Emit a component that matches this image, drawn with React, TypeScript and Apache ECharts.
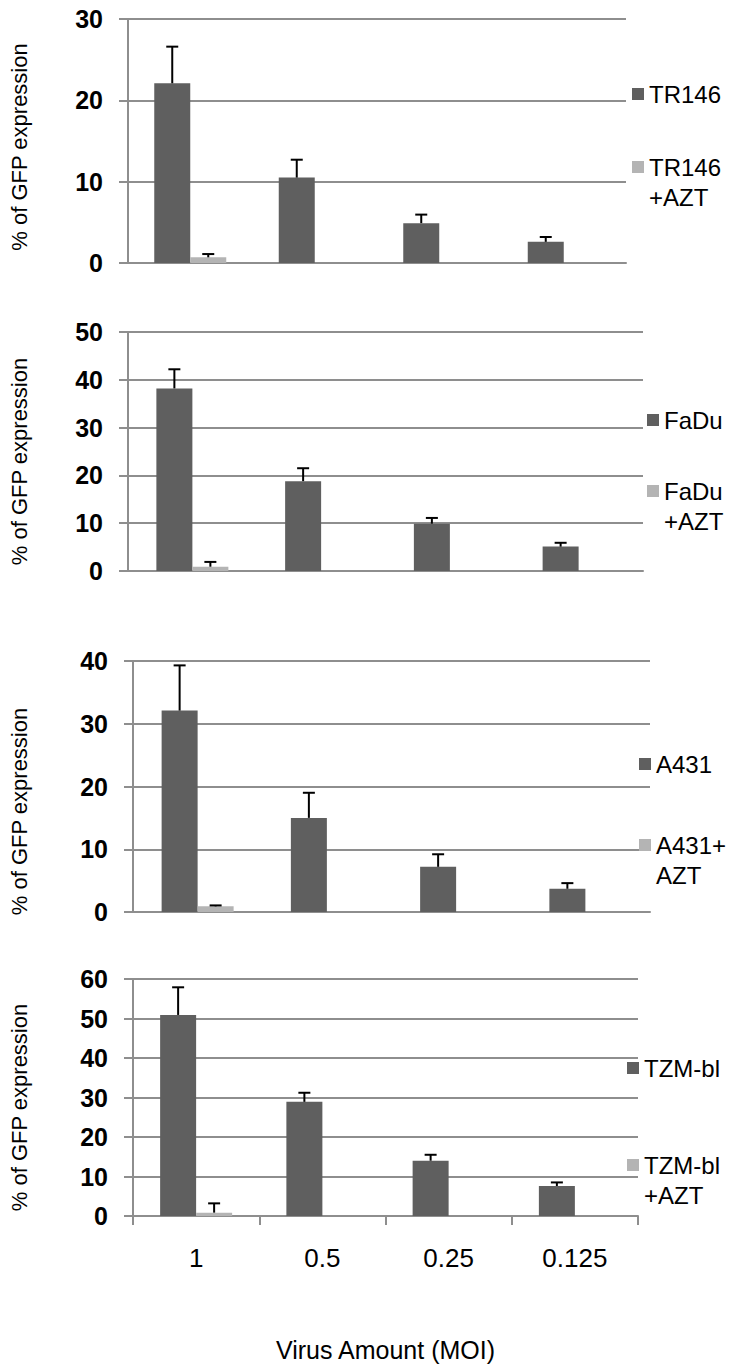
import React, { useEffect, useRef } from "react";
import * as echarts from "echarts";

// ---- data ----
const categories = ["1", "0.5", "0.25", "0.125"];

const tr146 = [22.1, 10.5, 4.9, 2.6];
const tr146Sd = [4.5, 2.2, 1.05, 0.6];
const tr146Azt = [0.7, 0, 0, 0];
const tr146AztSd = [0.4, 0, 0, 0];

const fadu = [38.2, 18.8, 9.9, 5.1];
const faduSd = [4.0, 2.7, 1.2, 0.8];
const faduAzt = [0.9, 0, 0, 0];
const faduAztSd = [1.0, 0, 0, 0];

const a431 = [32.1, 15.0, 7.2, 3.7];
const a431Sd = [7.2, 4.0, 2.0, 0.9];
const a431Azt = [0.9, 0, 0, 0];
const a431AztSd = [0.15, 0, 0, 0];

const tzm = [50.9, 28.9, 14.0, 7.6];
const tzmSd = [7.0, 2.3, 1.5, 0.9];
const tzmAzt = [0.85, 0, 0, 0];
const tzmAztSd = [2.35, 0, 0, 0];

const yMax = [30, 50, 40, 60];
const darkNames = ["TR146", "FaDu", "A431", "TZM-bl"];
const lightNames = ["TR146 +AZT", "FaDu +AZT", "A431+ AZT", "TZM-bl +AZT"];
const lightLines = [["TR146", "+AZT"], ["FaDu", "+AZT"], ["A431+", "AZT"], ["TZM-bl", "+AZT"]];
const yTitle = "% of GFP expression";
const xTitle = "Virus Amount (MOI)";

const darkVals = [tr146, fadu, a431, tzm];
const darkErrs = [tr146Sd, faduSd, a431Sd, tzmSd];
const lightVals = [tr146Azt, faduAzt, a431Azt, tzmAzt];
const lightErrs = [tr146AztSd, faduAztSd, a431AztSd, tzmAztSd];

// ---- layout / style ----
const grids = [
  { left: 128, top: 19, width: 498, height: 244 },
  { left: 128, top: 332, width: 515, height: 239 },
  { left: 133, top: 661, width: 517, height: 251 },
  { left: 133, top: 979, width: 505, height: 237 },
];
const nameGaps = [98, 98, 103, 103];
const titleShift = [12, 20, 50, 20];
const legendDark = [
  { x: 632, y: 97 },
  { x: 647, y: 423 },
  { x: 639, y: 767 },
  { x: 627, y: 1071 },
];
const legendLight = [
  { x: 632, y: 170 },
  { x: 647, y: 494 },
  { x: 639, y: 848 },
  { x: 627, y: 1168 },
];

const FONT = "'Liberation Sans', Arial, sans-serif";
const DARK = "#5f5f5f";
const LIGHT = "#b4b4b4";
const GRIDC = "#8e8e8e";
const BAR_W = 36;
const CAP = 12;
const LH = 30;

function errRenderer(sign: number) {
  return (params: any, api: any) => {
    const c = api.value(0);
    const v = api.value(1);
    const e = api.value(2);
    const p0 = api.coord([c, v]);
    const p1 = api.coord([c, v + e]);
    const x = p0[0] + (sign * BAR_W) / 2;
    return {
      type: "group",
      children: [
        { type: "line", shape: { x1: x, y1: p0[1], x2: x, y2: p1[1] }, style: { stroke: "#000", lineWidth: 2 } },
        { type: "line", shape: { x1: x - CAP / 2, y1: p1[1], x2: x + CAP / 2, y2: p1[1] }, style: { stroke: "#000", lineWidth: 2 } },
      ],
    };
  };
}

function buildOption() {
  const grid: any[] = [];
  const xAxis: any[] = [];
  const yAxis: any[] = [];
  const legend: any[] = [];
  const series: any[] = [];

  for (let i = 0; i < 4; i++) {
    const last = i === 3;
    grid.push({ ...grids[i], containLabel: false });
    xAxis.push({
      type: "category",
      gridIndex: i,
      data: categories,
      axisLine: { show: true, lineStyle: { color: GRIDC, width: 2 } },
      axisTick: { show: last, length: 9, lineStyle: { color: GRIDC, width: 2 } },
      axisLabel: { show: last, fontSize: 26, color: "#000", fontFamily: FONT, margin: 29 },
      name: last ? xTitle : "",
      nameLocation: "middle",
      nameGap: 121,
      nameTextStyle: { fontSize: 25, color: "#000", fontFamily: FONT, verticalAlign: "top" },
    });
    yAxis.push({
      type: "value",
      gridIndex: i,
      min: 0,
      max: yMax[i],
      interval: 10,
      axisLine: { show: true, lineStyle: { color: GRIDC, width: 2 } },
      axisTick: { show: true, length: 9, lineStyle: { color: GRIDC, width: 2 } },
      splitLine: { show: true, lineStyle: { color: GRIDC, width: 2 } },
      axisLabel: { fontSize: 25, fontWeight: "bold", color: "#000", fontFamily: FONT, margin: 25 },
      name: yTitle,
      nameLocation: "middle",
      nameGap: nameGaps[i],
      nameTextStyle: {
        fontSize: 22,
        color: "#000",
        fontFamily: FONT,
        padding: [0, titleShift[i], 0, 0],
      },
    });

    const lineRich = {
      t: { fontSize: 24, lineHeight: LH, fontFamily: FONT, color: "#000" },
      e: { fontSize: 24, lineHeight: LH, fontFamily: FONT, color: "#000" },
    };
    legend.push({
      data: [darkNames[i]],
      left: legendDark[i].x,
      top: legendDark[i].y - LH / 2,
      padding: 0,
      itemWidth: 12,
      itemHeight: 12,
      icon: "rect",
      formatter: (n: string) => `{t|${n}}`,
      textStyle: { rich: lineRich },
    });
    const ll = lightLines[i];
    legend.push({
      data: [lightNames[i]],
      left: legendLight[i].x,
      top: legendLight[i].y - (LH * 3) / 2,
      padding: 0,
      itemWidth: 12,
      itemHeight: 12,
      icon: "rect",
      formatter: () => `{e| }\n{t|${ll[0]}}\n{t|${ll[1]}}`,
      textStyle: { rich: lineRich },
    });

    series.push({
      name: darkNames[i],
      type: "bar",
      xAxisIndex: i,
      yAxisIndex: i,
      data: darkVals[i],
      barWidth: BAR_W,
      barGap: "0%",
      itemStyle: { color: DARK },
    });
    series.push({
      name: lightNames[i],
      type: "bar",
      xAxisIndex: i,
      yAxisIndex: i,
      data: lightVals[i],
      barWidth: BAR_W,
      barGap: "0%",
      itemStyle: { color: LIGHT },
    });
    series.push({
      type: "custom",
      xAxisIndex: i,
      yAxisIndex: i,
      z: 5,
      renderItem: errRenderer(-1),
      encode: { x: 0, y: 1 },
      data: darkVals[i].map((v, k) => [k, v, darkErrs[i][k]]).filter((d) => d[2] > 0),
    });
    series.push({
      type: "custom",
      xAxisIndex: i,
      yAxisIndex: i,
      z: 5,
      renderItem: errRenderer(1),
      encode: { x: 0, y: 1 },
      data: lightVals[i].map((v, k) => [k, v, lightErrs[i][k]]).filter((d) => d[2] > 0),
    });
  }

  return {
    animation: false,
    backgroundColor: "#ffffff",
    textStyle: { fontFamily: FONT },
    grid,
    xAxis,
    yAxis,
    legend,
    series,
  };
}

export default function App() {
  const ref = useRef<HTMLDivElement>(null);
  useEffect(() => {
    document.body.style.margin = "0";
    if (!ref.current) return;
    const chart = echarts.init(ref.current, null, { renderer: "svg" });
    chart.setOption(buildOption() as any);
    return () => chart.dispose();
  }, []);
  return <div ref={ref} style={{ width: 736, height: 1369 }} />;
}
